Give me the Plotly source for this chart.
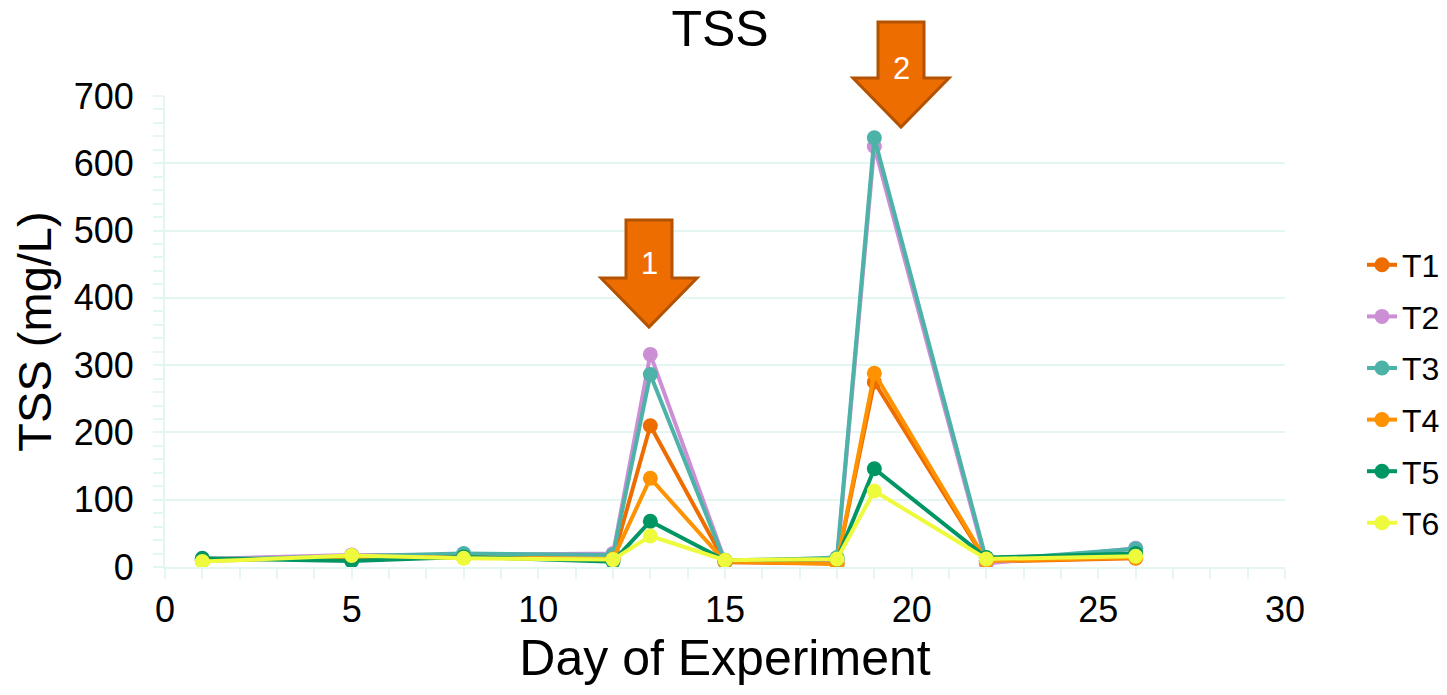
import plotly.graph_objects as go

# Sampling days and TSS readings (mg/L) per treatment
days = [1, 5, 8, 12, 13, 15, 18, 19, 22, 26]
t1 = [10, 15, 14, 12, 210, 7, 5, 275, 8, 13]
t2 = [12, 18, 18, 20, 316, 9, 10, 625, 5, 28]
t3 = [11, 16, 20, 18, 286, 8, 14, 638, 10, 27]
t4 = [9, 15, 14, 12, 132, 8, 5, 288, 9, 14]
t5 = [13, 9, 15, 8, 68, 10, 12, 146, 14, 20]
t6 = [8, 17, 13, 11, 46, 10, 12, 113, 12, 16]

series_names = ["T1", "T2", "T3", "T4", "T5", "T6"]
series_values = [t1, t2, t3, t4, t5, t6]
series_colors = ["#ed6d00", "#cc8fd6", "#4db3a8", "#ff9200", "#009664", "#eefa3c"]

# Event markers: label and the day the arrow points at
event_labels = ["1", "2"]

FONT = "Liberation Sans, Arial, sans-serif"
GRID = "#e4f6f0"

W, H = 1447, 695
L, R, T, B = 165, 162, 96, 128
PW, PH = W - L - R, H - T - B


def px_to_paper(px, py):
    return (px - L) / PW, (H - B - py) / PH


def arrow_path(cx, top, tip):
    # down arrow centred on cx (pixel coordinates), converted to paper units
    bw, hw = 23, 48
    base = tip - 49
    pts = [(cx - bw, top), (cx + bw, top), (cx + bw, base), (cx + hw, base),
           (cx, tip), (cx - hw, base), (cx - bw, base)]
    pp = [px_to_paper(x, y) for x, y in pts]
    return "M " + " L ".join(f"{x:.5f},{y:.5f}" for x, y in pp) + " Z"


fig = go.Figure()
for name, vals, col in zip(series_names, series_values, series_colors):
    fig.add_trace(go.Scatter(
        x=days, y=vals, name=name, mode="lines+markers",
        line=dict(color=col, width=4),
        marker=dict(color=col, size=15),
        legendgroup=name,
    ))

arrows = [(649, 220, 327, 263), (901, 22, 127, 68)]
shapes = []
annotations = []
for lab, (cx, top, tip, ty) in zip(event_labels, arrows):
    shapes.append(dict(type="path", xref="paper", yref="paper",
                       path=arrow_path(cx, top, tip),
                       fillcolor="#ed6d00", line=dict(color="#b35200", width=3)))
    ax, ay = px_to_paper(cx, ty)
    annotations.append(dict(text=lab, x=ax, y=ay, xref="paper", yref="paper",
                            showarrow=False, xanchor="center", yanchor="middle",
                            font=dict(family=FONT, size=31, color="white")))

fig.update_layout(
    width=W, height=H,
    margin=dict(l=L, r=R, t=T, b=B, autoexpand=False),
    paper_bgcolor="white", plot_bgcolor="white",
    font=dict(family=FONT, color="black"),
    title=dict(text="TSS", x=720 / W, xanchor="center", y=1 - 28 / H,
               yanchor="middle", font=dict(size=50, family=FONT)),
    legend=dict(xref="container", x=1362 / W, xanchor="left",
                yref="container", y=1 - 394 / H, yanchor="middle",
                font=dict(size=32, family=FONT), tracegroupgap=7,
                bgcolor="rgba(0,0,0,0)"),
    shapes=shapes,
    annotations=annotations,
)

fig.update_xaxes(
    range=[0, 30], dtick=5, tick0=0,
    showgrid=False, zeroline=False,
    showline=True, linecolor=GRID, linewidth=2,
    ticks="outside", ticklen=10, tickcolor=GRID, tickwidth=2,
    minor=dict(dtick=1, ticks="outside", ticklen=10, tickcolor=GRID, tickwidth=2),
    tickfont=dict(size=36, family=FONT),
    title=dict(text="Day of Experiment", font=dict(size=50, family=FONT), standoff=4),
)
fig.update_yaxes(
    range=[0, 700], dtick=100, tick0=0,
    showgrid=True, gridcolor=GRID, gridwidth=2, zeroline=False,
    showline=True, linecolor=GRID, linewidth=2,
    ticks="outside", ticklen=10, tickcolor=GRID, tickwidth=2,
    ticklabelstandoff=12,
    minor=dict(dtick=20, ticks="outside", ticklen=10, tickcolor=GRID, tickwidth=2,
               showgrid=False),
    tickfont=dict(size=36, family=FONT),
    title=dict(text="TSS (mg/L)", font=dict(size=47, family=FONT), standoff=7),
)

fig.write_html("out.html")
